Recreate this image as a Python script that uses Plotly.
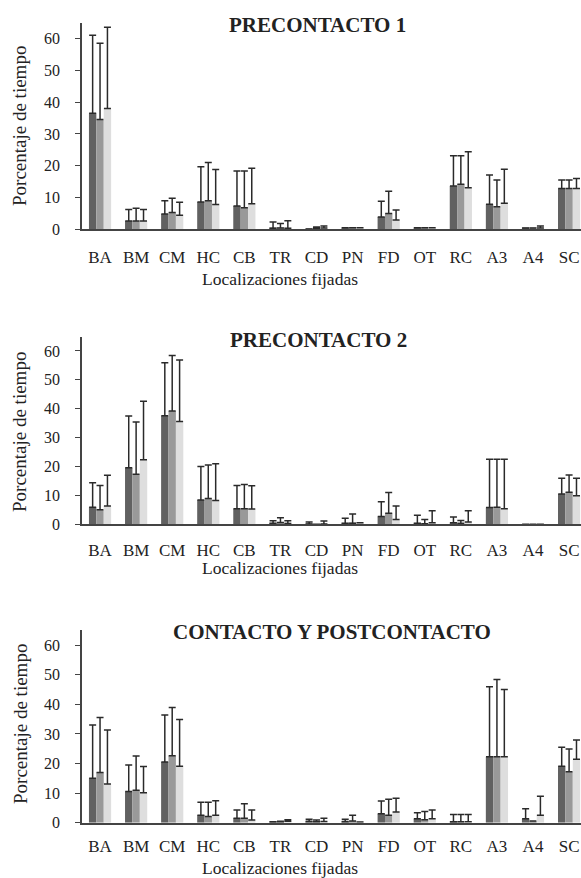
import plotly.graph_objects as go

categories = ["BA", "BM", "CM", "HC", "CB", "TR", "CD", "PN", "FD", "OT", "RC", "A3", "A4", "SC"]
panel_titles = ["PRECONTACTO 1", "PRECONTACTO 2", "CONTACTO Y POSTCONTACTO"]
y_title = "Porcentaje de tiempo"
x_title = "Localizaciones fijadas"
y_ticks = [0, 10, 20, 30, 40, 50, 60]

# Panel 1: PRECONTACTO 1 (means and upper SD for the three series)
p1_s1 = [36.5, 2.6, 4.8, 8.6, 7.3, 0.3, 0.1, 0.5, 3.9, 0.5, 13.6, 7.9, 0.4, 12.8]
p1_s2 = [34.5, 2.6, 5.3, 9.0, 6.8, 0.4, 0.3, 0.5, 5.0, 0.5, 14.2, 7.1, 0.4, 12.8]
p1_s3 = [38.0, 2.6, 4.4, 7.8, 8.0, 0.3, 0.4, 0.5, 2.9, 0.5, 13.1, 8.2, 0.4, 12.8]
p1_e1 = [24.5, 3.6, 4.2, 11.1, 11.0, 2.0, 0.0, 0.0, 4.9, 0.0, 9.5, 9.2, 0.0, 2.7]
p1_e2 = [24.0, 4.0, 4.5, 12.0, 11.5, 1.4, 0.4, 0.0, 7.0, 0.0, 8.9, 8.4, 0.0, 2.7]
p1_e3 = [25.5, 3.6, 4.1, 11.0, 11.2, 2.4, 0.6, 0.0, 3.2, 0.0, 11.3, 10.7, 0.6, 3.2]

# Panel 2: PRECONTACTO 2
p2_s1 = [5.9, 19.6, 37.6, 8.4, 5.4, 0.3, 0.1, 0.3, 2.7, 0.3, 0.5, 5.8, 0.0, 10.5]
p2_s2 = [5.0, 17.3, 39.2, 8.9, 5.4, 0.6, 0.0, 0.4, 3.8, 0.2, 0.3, 5.9, 0.0, 11.1]
p2_s3 = [6.3, 22.3, 35.6, 8.2, 5.3, 0.3, 0.1, 0.5, 1.7, 0.5, 0.8, 5.4, 0.0, 9.9]
p2_e1 = [8.5, 17.9, 18.3, 11.6, 8.0, 0.9, 0.7, 1.8, 5.1, 2.8, 2.0, 16.7, 0.0, 5.4]
p2_e2 = [8.4, 18.1, 19.2, 11.6, 8.4, 1.7, 0.0, 3.2, 7.2, 1.5, 1.0, 16.6, 0.0, 6.0]
p2_e3 = [10.7, 20.3, 21.3, 12.8, 8.0, 0.9, 1.0, 0.0, 4.6, 4.2, 3.9, 17.1, 0.0, 6.0]

# Panel 3: CONTACTO Y POSTCONTACTO
p3_s1 = [15.0, 10.5, 20.5, 2.5, 1.5, 0.3, 0.5, 0.4, 3.0, 1.35, 0.3, 22.3, 1.35, 19.1]
p3_s2 = [17.0, 11.0, 22.6, 2.1, 1.5, 0.3, 0.3, 0.6, 2.5, 1.0, 0.3, 22.3, 0.6, 17.2]
p3_s3 = [13.1, 10.1, 19.1, 2.5, 0.9, 0.5, 0.4, 0.2, 3.6, 1.35, 0.3, 22.3, 2.5, 21.4]
p3_e1 = [18.0, 9.0, 15.9, 4.4, 2.8, 0.0, 0.7, 0.8, 4.3, 2.0, 2.5, 23.6, 3.4, 6.4]
p3_e2 = [18.5, 11.5, 16.3, 4.8, 4.9, 0.2, 0.6, 1.9, 5.4, 2.8, 2.5, 26.1, 0.0, 7.7]
p3_e3 = [18.2, 8.9, 15.8, 4.9, 3.4, 0.5, 1.1, 0.0, 4.7, 2.9, 2.5, 22.7, 6.4, 6.5]

series_colors = ["#616161", "#999999", "#dedede"]

panels = [
    ([p1_s1, p1_s2, p1_s3], [p1_e1, p1_e2, p1_e3]),
    ([p2_s1, p2_s2, p2_s3], [p2_e1, p2_e2, p2_e3]),
    ([p3_s1, p3_s2, p3_s3], [p3_e1, p3_e2, p3_e3]),
]

FONT = "Times New Roman, Liberation Serif, serif"
W, H = 581, 878
ML = 82  # y axis at page x = 82
PW = W - ML


def px2x(px):
    return (px - ML) / PW


def py2y(py):
    return 1 - py / H


# page-pixel geometry (top of axis = 65, bottom = 0)
panel_px = [(22.6, 229.3), (336.5, 524.3), (630.3, 822.7)]
title_pos = [(317, 25), (318, 340), (332, 632)]
xtitle_pos = [(280, 279), (280, 568), (280, 868)]
ytitle_pos = [(20, 126), (20, 432), (20, 724)]
x_standoff = [11, 9, 7]

fig = go.Figure()
layout = dict(
    width=W, height=H,
    margin=dict(l=ML, r=0, t=0, b=0, autoexpand=False),
    paper_bgcolor="white", plot_bgcolor="white",
    showlegend=False,
    barmode="group", bargap=0.385, bargroupgap=0,
    font=dict(family=FONT, color="#222"),
)
annotations = []
for i, (vals, errs) in enumerate(panels):
    xa = "x" if i == 0 else f"x{i+1}"
    ya = "y" if i == 0 else f"y{i+1}"
    for s in range(3):
        fig.add_trace(go.Bar(
            x=categories, y=vals[s], xaxis=xa, yaxis=ya,
            marker=dict(color=series_colors[s], line=dict(width=0)),
            error_y=dict(type="data", array=errs[s], arrayminus=[0] * len(categories),
                         symmetric=False, color="#2a2a2a", thickness=1.5, width=3.5),
        ))
    top, bot = panel_px[i]
    xkey = "xaxis" if i == 0 else f"xaxis{i+1}"
    ykey = "yaxis" if i == 0 else f"yaxis{i+1}"
    layout[xkey] = dict(
        domain=[0, 1], anchor=ya, type="category", categoryarray=categories,
        categoryorder="array", range=[-0.5, 13.33], automargin=False,
        showline=True, linecolor="#444", linewidth=1.6, ticks="",
        showgrid=False, zeroline=False,
        tickfont=dict(family=FONT, size=17, color="#222"),
        ticklabelstandoff=x_standoff[i],
    )
    layout[ykey] = dict(
        domain=[py2y(bot), py2y(top)], anchor=xa, range=[0, 65], automargin=False,
        tickvals=y_ticks, showline=True, linecolor="#444", linewidth=1.6,
        ticks="outside", ticklen=5, tickcolor="#444", tickwidth=1.3,
        showgrid=False, zeroline=False,
        tickfont=dict(family=FONT, size=16, color="#222"),
        ticklabelstandoff=12,
    )
    tx, ty = title_pos[i]
    annotations.append(dict(
        text=f"<b>{panel_titles[i]}</b>", x=px2x(tx), y=py2y(ty), xref="paper", yref="paper",
        xanchor="center", yanchor="middle", showarrow=False,
        font=dict(family=FONT, size=21, color="#222"),
    ))
    ax, ay = xtitle_pos[i]
    annotations.append(dict(
        text=x_title, x=px2x(ax), y=py2y(ay), xref="paper", yref="paper",
        xanchor="center", yanchor="middle", showarrow=False,
        font=dict(family=FONT, size=17.5, color="#222"),
    ))
    yx, yy = ytitle_pos[i]
    annotations.append(dict(
        text=y_title, x=px2x(yx), y=py2y(yy), xref="paper", yref="paper",
        xanchor="center", yanchor="middle", showarrow=False, textangle=-90,
        font=dict(family=FONT, size=19, color="#222"),
    ))

layout["annotations"] = annotations
fig.update_layout(**layout)
fig.write_html(
    "out.html",
    config={"displayModeBar": False},
    post_script="document.body.style.margin='0';document.body.style.overflow='hidden';",
)
